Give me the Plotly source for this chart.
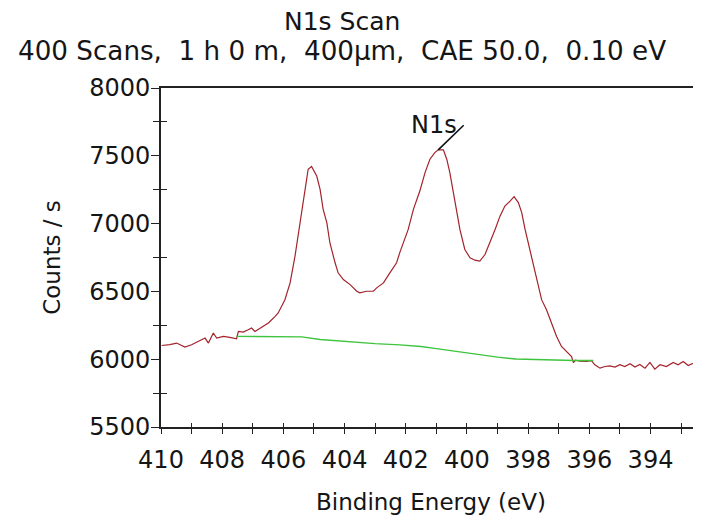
import plotly.graph_objects as go

# ---- data ----
energy = [409.98, 409.71, 409.49, 409.22, 409.00, 408.78, 408.56, 408.45, 408.29, 408.18,
          407.96, 407.75, 407.53, 407.47, 407.31, 407.15, 407.04, 406.93, 406.71, 406.49,
          406.27, 406.17, 405.95, 405.78, 405.62, 405.46, 405.29, 405.19, 405.08, 404.91,
          404.80, 404.70, 404.58, 404.48, 404.31, 404.21, 404.04, 403.82, 403.60, 403.50,
          403.28, 403.06, 402.95, 402.73, 402.52, 402.30, 402.19, 401.92, 401.75, 401.54,
          401.37, 401.21, 401.05, 400.94, 400.77, 400.66, 400.56, 400.45, 400.34, 400.23,
          400.07, 399.90, 399.74, 399.58, 399.41, 399.25, 399.08, 398.92, 398.76, 398.59,
          398.46, 398.32, 398.21, 398.10, 398.00, 397.89, 397.78, 397.67, 397.56, 397.40,
          397.23, 397.07, 396.91, 396.74, 396.58, 396.52, 396.45, 396.31, 396.09, 395.93,
          395.82, 395.65, 395.49, 395.33, 395.16, 395.00, 394.84, 394.67, 394.51, 394.35,
          394.18, 394.02, 393.86, 393.69, 393.48, 393.26, 393.10, 392.93, 392.77, 392.60,
          392.38]
counts = [6101, 6107, 6119, 6089, 6107, 6131, 6156, 6119, 6193, 6156,
          6168, 6161, 6151, 6205, 6200, 6217, 6230, 6205, 6234, 6267,
          6316, 6341, 6439, 6563, 6760, 7007, 7277, 7401, 7421, 7351,
          7253, 7105, 7007, 6859, 6711, 6637, 6587, 6550, 6501, 6489,
          6501, 6501, 6526, 6563, 6637, 6711, 6790, 6957, 7105, 7240,
          7376, 7475, 7524, 7544, 7544, 7475, 7376, 7229, 7081, 6957,
          6809, 6748, 6730, 6723, 6772, 6859, 6957, 7055, 7129, 7166,
          7199, 7155, 7081, 6957, 6859, 6760, 6637, 6538, 6439, 6365,
          6267, 6168, 6094, 6055, 6020, 5975, 5992, 5985, 5983, 5990,
          5959, 5934, 5946, 5951, 5942, 5959, 5946, 5966, 5942, 5961,
          5934, 5976, 5927, 5959, 5946, 5976, 5959, 5983, 5953, 5971,
          5959]

bg_energy = [407.53, 406.0, 405.4, 404.8, 404.0, 403.0, 402.2, 401.5, 401.0, 400.0,
             399.0, 398.4, 397.5, 396.5, 395.87]
bg_counts = [6168, 6166, 6165, 6145, 6130, 6115, 6106, 6094, 6078, 6045,
             6015, 6001, 5994, 5990, 5990]

x_tick_vals = [410, 408, 406, 404, 402, 400, 398, 396, 394]
x_tick_text = [str(v) for v in x_tick_vals]
y_tick_vals = [5500, 6000, 6500, 7000, 7500, 8000]
y_tick_text = [str(v) for v in y_tick_vals]
x_minor_vals = [409, 407, 405, 403, 401, 399, 397, 395, 393]
x_all_vals = sorted(x_tick_vals + x_minor_vals)
y_minor_vals = [5750, 6250, 6750, 7250, 7750]

x_range = [410, 392.35]
y_range = [5500, 8000]

title_text = "N1s Scan"
subtitle_text = "400 Scans, \u00a01 h 0 m, \u00a0400\u00b5m, \u00a0CAE 50.0, \u00a00.10 eV"
x_title = "Binding Energy (eV)"
y_title = "Counts / s"
peak_label = "N1s"
peak_energy = 400.94
peak_counts = 7544

FONT = "DejaVu Sans"
INK = "#151515"
AXIS = "#222222"

fig = go.Figure()
fig.add_trace(go.Scatter(x=energy, y=counts, mode="lines",
                         line=dict(color="#a3222b", width=1.2), hoverinfo="skip",
                         showlegend=False))
fig.add_trace(go.Scatter(x=bg_energy, y=bg_counts, mode="lines",
                         line=dict(color="#3ec43e", width=1.4, shape="linear"),
                         hoverinfo="skip", showlegend=False))
# empty trace to host overlay axes for crossing ticks
fig.add_trace(go.Scatter(x=[], y=[], xaxis="x2", yaxis="y2", showlegend=False,
                         hoverinfo="skip"))

# the page body has an 8px default margin, so the figure is 8px smaller
fig.update_layout(
    width=693, height=513,
    margin=dict(l=153, r=0, t=80, b=94, autoexpand=False),
    paper_bgcolor="white", plot_bgcolor="white",
    font=dict(family=FONT, size=24, color=INK),
    showlegend=False,
    xaxis=dict(range=x_range, tickmode="array", tickvals=x_tick_vals, ticktext=x_tick_text,
               ticks="outside", ticklen=5, tickwidth=1.3, tickcolor=AXIS,
               ticklabelstandoff=5,
               minor=dict(tickvals=x_minor_vals, ticks="outside", ticklen=5,
                          tickwidth=1.3, tickcolor=AXIS),
               showline=True, linecolor=AXIS, linewidth=1.6, mirror=True,
               showgrid=False, zeroline=False,
               tickfont=dict(family=FONT, size=24, color=INK),
               title=dict(text=x_title, font=dict(family=FONT, size=23, color=INK),
                          standoff=21)),
    yaxis=dict(range=y_range, tickmode="array", tickvals=y_tick_vals, ticktext=y_tick_text,
               ticks="outside", ticklen=8, tickwidth=1.3, tickcolor=AXIS,
               ticklabelstandoff=-4,
               minor=dict(tickvals=y_minor_vals, ticks="outside", ticklen=6,
                          tickwidth=1.3, tickcolor=AXIS),
               showline=True, linecolor=AXIS, linewidth=1.6,
               showgrid=False, zeroline=False,
               tickfont=dict(family=FONT, size=24, color=INK),
               title=dict(text=y_title, font=dict(family=FONT, size=23, color=INK),
                          standoff=22)),
    xaxis2=dict(range=x_range, overlaying="x", anchor="y2", side="bottom",
                tickmode="array", tickvals=x_all_vals, ticks="inside", ticklen=4,
                tickwidth=1.3, tickcolor=AXIS, showticklabels=False,
                showline=False, showgrid=False, zeroline=False),
    yaxis2=dict(range=y_range, overlaying="y", anchor="x2", side="left",
                tickmode="array", tickvals=y_minor_vals, ticks="inside", ticklen=6,
                tickwidth=1.3, tickcolor=AXIS, showticklabels=False,
                showline=False, showgrid=False, zeroline=False),
)

fig.add_annotation(text=title_text, xref="paper", yref="paper",
                   x=(342 - 161) / 540, y=(427 - 21.5) / 339,
                   xanchor="center", yanchor="middle", showarrow=False,
                   font=dict(family=FONT, size=25, color=INK))
fig.add_annotation(text=subtitle_text, xref="paper", yref="paper",
                   x=(342 - 161) / 540, y=(427 - 51) / 339,
                   xanchor="center", yanchor="middle", showarrow=False,
                   font=dict(family=FONT, size=26.2, color=INK))

# peak label with leader line
fig.add_annotation(x=peak_energy, y=peak_counts, xref="x", yref="y", text="",
                   showarrow=True, arrowhead=0, arrowwidth=1.6, arrowcolor="#111111",
                   ax=27, ay=-26, standoff=0)
fig.add_annotation(x=peak_energy, y=peak_counts, xref="x", yref="y", text=peak_label,
                   showarrow=False, xanchor="center", yanchor="middle",
                   xshift=-4, yshift=25,
                   font=dict(family=FONT, size=24, color=INK))

fig.write_html("out.html")
